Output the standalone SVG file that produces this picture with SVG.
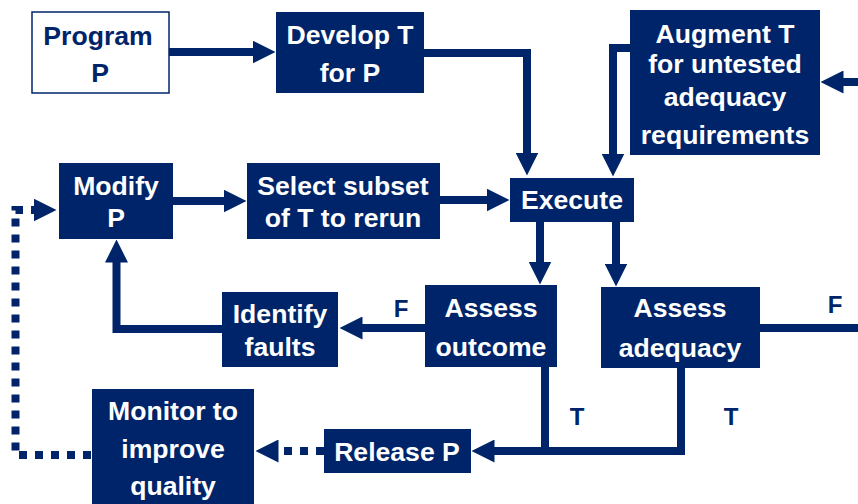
<svg xmlns="http://www.w3.org/2000/svg" width="858" height="504" viewBox="0 0 858 504">
<style>
.box{fill:#002469}
.wbox{fill:#ffffff;stroke:#002469;stroke-width:1.5}
.t{font-family:"Liberation Sans",Arial,sans-serif;font-weight:bold;font-size:26.6px;fill:#ffffff;text-anchor:middle}
.tn{fill:#002469}
.lbl{font-family:"Liberation Sans",Arial,sans-serif;font-weight:bold;font-size:24px;fill:#002469;text-anchor:middle}
.c{fill:none;stroke:#002469;stroke-width:8;stroke-linejoin:miter}
.d{fill:none;stroke:#002469;stroke-width:8;stroke-dasharray:8 8}
</style>
<defs>
<marker id="ah" viewBox="0 0 23 23" markerWidth="23" markerHeight="23" refX="0.5" refY="11.5" markerUnits="userSpaceOnUse" orient="auto">
<path d="M0,0 L23,11.5 L0,23 z" fill="#002469"/>
</marker>
</defs>
<rect width="858" height="504" fill="#ffffff"/>
<g id="connectors">
<path class="c" d="M169 52 H253" marker-end="url(#ah)"/>
<path class="c" d="M424 53 H527 V153" marker-end="url(#ah)"/>
<path class="c" d="M630 48 H613 V154" marker-end="url(#ah)"/>
<path class="c" d="M858 82 H843" marker-end="url(#ah)"/>
<path class="c" d="M440 200 H487" marker-end="url(#ah)"/>
<path class="c" d="M173 201 H224" marker-end="url(#ah)"/>
<path class="c" d="M540 222 V262" marker-end="url(#ah)"/>
<path class="c" d="M616 222 V264" marker-end="url(#ah)"/>
<path class="c" d="M760 328 H858"/>
<path class="c" d="M425 328 H362" marker-end="url(#ah)"/>
<path class="c" d="M222 329 H116.5 V262" marker-end="url(#ah)"/>
<path class="c" d="M545 367 V455"/>
<path class="c" d="M681 368 V451 H494" marker-end="url(#ah)"/>
<path class="d" d="M324 451 H278" marker-end="url(#ah)"/>
<path class="d" d="M91 455 H15.5 V210 H34" marker-end="url(#ah)"/>
<text class="lbl" x="401" y="317">F</text>
<text class="lbl" x="835" y="313">F</text>
<text class="lbl" x="577" y="425">T</text>
<text class="lbl" x="731" y="425">T</text>
</g>
<g id="program">
<rect class="wbox" x="32" y="12" width="137" height="81"/>
<text class="t tn" x="98" y="45">Program</text>
<text class="t tn" x="100" y="82">P</text>
</g>
<g id="develop">
<rect class="box" x="276" y="12" width="148" height="81"/>
<text class="t" x="350" y="44">Develop T</text>
<text class="t" x="350" y="82">for P</text>
</g>
<g id="augment">
<rect class="box" x="630" y="10" width="190" height="145"/>
<text class="t" x="725" y="43">Augment T</text>
<text class="t" x="725" y="73">for untested</text>
<text class="t" x="725" y="106">adequacy</text>
<text class="t" x="725" y="144">requirements</text>
</g>
<g id="modify">
<rect class="box" x="59" y="163" width="114" height="76"/>
<text class="t" x="116" y="195">Modify</text>
<text class="t" x="116" y="227">P</text>
</g>
<g id="select">
<rect class="box" x="247" y="163" width="193" height="76"/>
<text class="t" x="343" y="195">Select subset</text>
<text class="t" x="343" y="227">of T to rerun</text>
</g>
<g id="execute">
<rect class="box" x="510" y="178" width="124" height="44"/>
<text class="t" x="572" y="209">Execute</text>
</g>
<g id="identify">
<rect class="box" x="222" y="292" width="116" height="75"/>
<text class="t" x="280" y="323">Identify</text>
<text class="t" x="280" y="356">faults</text>
</g>
<g id="assess-outcome">
<rect class="box" x="425" y="285" width="132" height="82"/>
<text class="t" x="491" y="317">Assess</text>
<text class="t" x="491" y="356">outcome</text>
</g>
<g id="assess-adequacy">
<rect class="box" x="601" y="287" width="159" height="81"/>
<text class="t" x="680" y="317">Assess</text>
<text class="t" x="680" y="357">adequacy</text>
</g>
<g id="release">
<rect class="box" x="324" y="429" width="147" height="44"/>
<text class="t" x="397" y="461">Release P</text>
</g>
<g id="monitor">
<rect class="box" x="92" y="389" width="162" height="120"/>
<text class="t" x="173" y="420">Monitor to</text>
<text class="t" x="173" y="458">improve</text>
<text class="t" x="173" y="495">quality</text>
</g>
</svg>
